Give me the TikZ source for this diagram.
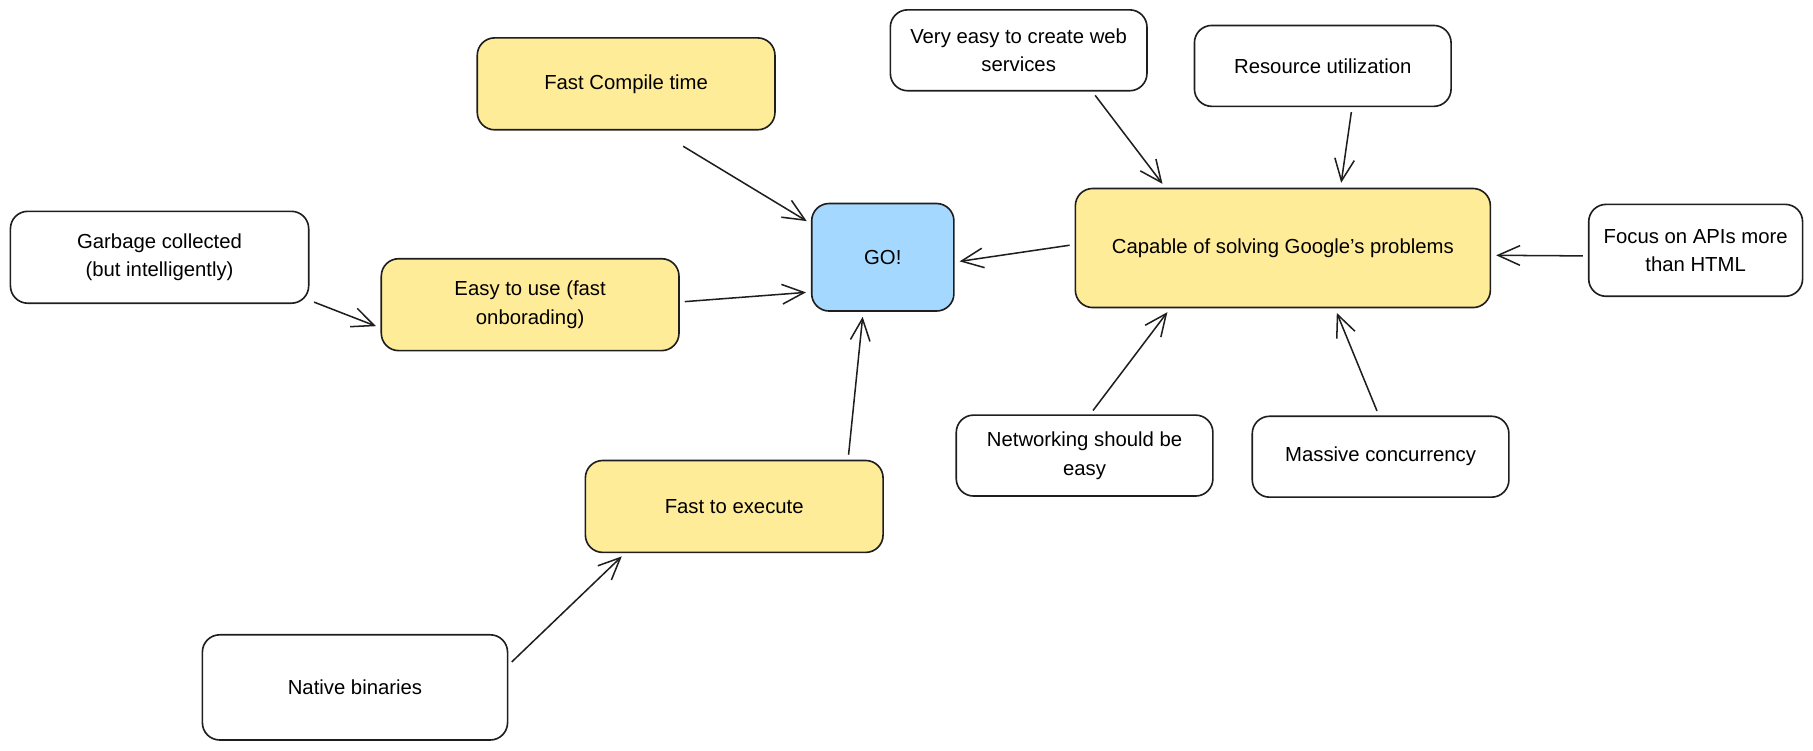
\documentclass[tikz,border=0pt]{standalone}
\usepackage{fontspec}
\setmainfont{Liberation Sans}
\usetikzlibrary{arrows.meta,positioning}
\definecolor{ideayellow}{HTML}{FFEC99}
\definecolor{goblue}{HTML}{A5D8FF}
\definecolor{ink}{HTML}{1E1E1E}
\begin{document}
\begin{tikzpicture}[x=0.02cm,y=-0.02cm]
\tikzstyle{box}=[rectangle,rounded corners=0.3cm,draw=ink,line width=0.8pt,
inner sep=2pt,outer sep=0pt,align=center,font=\fontsize{10}{14}\selectfont,
fill=white,minimum width=4.44cm,minimum height=1.4cm]
\tikzstyle{idea}=[box,fill=ideayellow,minimum width=5.15cm,minimum height=1.59cm]
\tikzstyle{arr}=[-{Straight Barb[length=0.38cm,width=0.34cm]},draw=ink,line width=0.75pt,
shorten <=0.1cm,shorten >=0.1cm]
\useasboundingbox (0,0) rectangle (1568,649);

\node[box,fill=goblue,minimum width=2.46cm,minimum height=1.86cm] at (763.5,222.5) (go) {GO!};
\node[idea] at (541.5,72.5) (compile) {Fast Compile time};
\node[idea] at (458.5,263.5) (easy) {Easy to use (fast\\onborading)};
\node[idea] at (635,438) (exec) {Fast to execute};
\node[box,minimum width=5.16cm,minimum height=1.59cm] at (138,222.5) (garbage) {Garbage collected\\(but intelligently)};
\node[box,minimum width=5.28cm,minimum height=1.82cm] at (307,594.5) (native) {Native binaries};
\node[idea,minimum width=7.18cm,minimum height=2.06cm] at (1109.5,214.5) (google) {Capable of solving Google's problems};
\node[box] at (881,43.5) (web) {Very easy to create web\\services};
\node[box] at (1144,57) (resource) {Resource utilization};
\node[box,minimum width=3.7cm,minimum height=1.59cm] at (1466.5,216.5) (apis) {Focus on APIs more\\than HTML};
\node[box] at (938,394) (network) {Networking should be\\easy};
\node[box] at (1194,395) (concurrency) {Massive concurrency};

\draw[arr,shorten <=0.55cm] (compile.-57) -- (go.155);
\draw[arr] (garbage.-16) -- (easy.189);
\draw[arr] (easy.1) -- (go.206);
\draw[arr] (exec.22) -- (go.250);
\draw[arr] (native.8) -- (exec.203);
\draw[arr] (google.179) -- (go.-4);
\draw[arr] (web.-29) -- (google.153);
\draw[arr] (resource.-54) -- (google.46);
\draw[arr] (apis.183) -- (google.-2);
\draw[arr] (network.83) -- (google.208);
\draw[arr] (concurrency.92) -- (google.-49);

\end{tikzpicture}
\end{document}
